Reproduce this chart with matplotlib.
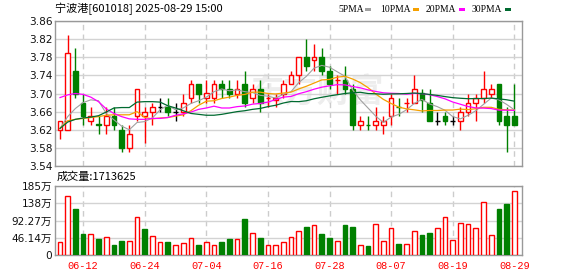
import matplotlib
matplotlib.use('Agg')
import matplotlib.pyplot as plt
from matplotlib.patches import Rectangle
import numpy as np
import pandas as pd

# ---------------- data ----------------
dates = ["06-09","06-10","06-11","06-12","06-13","06-16","06-17","06-18","06-19","06-20",
         "06-23","06-24","06-25","06-26","06-27","06-30","07-01","07-02","07-03","07-04",
         "07-07","07-08","07-09","07-10","07-11","07-14","07-15","07-16","07-17","07-18",
         "07-21","07-22","07-23","07-24","07-25","07-28","07-29","07-30","07-31","08-01",
         "08-04","08-05","08-06","08-07","08-08","08-11","08-12","08-13","08-14","08-15",
         "08-18","08-19","08-20","08-21","08-22","08-25","08-26","08-27","08-28","08-29"]
tick_labels = ["06-12","06-24","07-04","07-16","07-28","08-07","08-19","08-29"]

open_ = [3.62,3.62,3.75,3.68,3.64,3.633,3.63,3.65,3.62,3.58,
         3.65,3.65,3.66,3.67,3.67,3.66,3.66,3.69,3.72,3.69,
         3.69,3.72,3.71,3.70,3.72,3.69,3.71,3.69,3.685,3.70,
         3.72,3.74,3.78,3.775,3.78,3.75,3.73,3.73,3.71,3.63,
         3.63,3.63,3.63,3.65,3.67,3.68,3.68,3.70,3.68,3.64,
         3.65,3.64,3.64,3.66,3.68,3.69,3.70,3.72,3.65,3.65]
high = [3.64,3.83,3.80,3.70,3.67,3.65,3.67,3.67,3.63,3.63,
        3.71,3.67,3.68,3.69,3.69,3.68,3.70,3.73,3.72,3.73,
        3.73,3.73,3.73,3.73,3.75,3.72,3.73,3.70,3.70,3.73,
        3.75,3.78,3.82,3.81,3.80,3.76,3.74,3.76,3.72,3.65,
        3.65,3.67,3.65,3.70,3.69,3.69,3.74,3.71,3.71,3.66,
        3.66,3.65,3.67,3.70,3.70,3.75,3.72,3.72,3.67,3.72]
low = [3.60,3.62,3.69,3.63,3.63,3.61,3.61,3.62,3.57,3.57,
       3.64,3.59,3.63,3.66,3.65,3.64,3.65,3.68,3.68,3.68,
       3.68,3.69,3.69,3.69,3.67,3.68,3.66,3.67,3.67,3.69,
       3.72,3.72,3.75,3.75,3.74,3.71,3.70,3.70,3.62,3.62,
       3.62,3.62,3.61,3.63,3.65,3.66,3.68,3.66,3.64,3.63,
       3.63,3.63,3.62,3.65,3.64,3.68,3.69,3.63,3.57,3.63]
close = [3.64,3.79,3.70,3.65,3.65,3.63,3.65,3.63,3.58,3.61,
         3.71,3.66,3.67,3.67,3.66,3.66,3.68,3.72,3.70,3.70,
         3.72,3.71,3.70,3.71,3.68,3.71,3.68,3.69,3.69,3.72,
         3.74,3.78,3.76,3.78,3.75,3.72,3.73,3.71,3.63,3.64,
         3.63,3.64,3.64,3.69,3.67,3.68,3.71,3.685,3.64,3.64,
         3.64,3.64,3.66,3.68,3.69,3.71,3.71,3.64,3.63,3.63]

# volume in 万
volume = [35.7,158,123,56,56,43,47,27,37.5,37.5,
          101,70,51,35,35,26,31,45,26,35,
          26,35,43,43,96.5,59,45.6,26,26,35,
          48,64,75,80,56,45.6,37.5,80,75,26,
          24,83,37.5,71.5,29.5,29.5,63.5,53.6,59,71.5,
          101,40,85,82,71.5,141,53.6,123,137,171.3625]
vol_up = [1,1,0,0,1,0,1,0,0,1,
          1,0,1,1,0,1,1,1,0,1,
          1,0,0,1,0,1,0,1,1,1,
          1,1,0,1,0,0,1,0,0,1,
          0,1,1,1,0,1,1,0,0,1,
          1,1,1,1,1,1,1,0,0,1]
vol_max = 184.55
vol_tick_labels = ["0", "46.14万", "92.27万", "138万", "185万"]

# moving-average values before a full window is available
ma5_head = [3.623, 3.649, 3.667, 3.680]
ma10_head = [3.623, 3.640, 3.643, 3.645, 3.647, 3.649, 3.652, 3.653, 3.653]
ma20_head = [3.691, 3.697, 3.700, 3.698, 3.692, 3.682, 3.666, 3.656, 3.649, 3.644,
             3.643, 3.643, 3.645, 3.645, 3.647, 3.652, 3.655, 3.659, 3.665]
ma30_head = [3.623, 3.637, 3.643, 3.646, 3.648, 3.651, 3.659, 3.668, 3.669, 3.669,
             3.681, 3.682, 3.682, 3.681, 3.673, 3.668, 3.662, 3.656, 3.654, 3.652,
             3.652, 3.654, 3.657, 3.660, 3.662, 3.665, 3.667, 3.671, 3.674]

price_ticks = [3.54, 3.58, 3.62, 3.66, 3.70, 3.74, 3.78, 3.82, 3.86]

# ---------------- style ----------------
RED = '#ff0000'
GREEN = '#008000'
MA_COLORS = {'5PMA': '#a0a0a0', '10PMA': '#f5a000', '20PMA': '#ff00ff', '30PMA': '#006a30'}
GRID = '#d3d3d3'
SPINE = '#999999'

W, H = 578, 276
fig = plt.figure(figsize=(W / 100, H / 100), dpi=100)


def ax_px(l, t, r, b):
    return fig.add_axes([l / W, 1 - b / H, (r - l) / W, (b - t) / H])


ax = ax_px(55, 21, 522, 166)
axv = ax_px(55, 186, 522, 255)

n = len(close)
x = np.arange(n)
tick_pos = [dates.index(t) for t in tick_labels]
bw = 0.62

closes = np.array(close)


def ma(win, head):
    out = pd.Series(closes).rolling(win).mean().to_numpy()
    out[:win - 1] = head
    return out


mas = {'5PMA': ma(5, ma5_head), '10PMA': ma(10, ma10_head),
       '20PMA': ma(20, ma20_head), '30PMA': ma(30, ma30_head)}

# watermark
ax.text(0.56, 0.5, "东方财富", transform=ax.transAxes, ha='center', va='center',
        fontsize=24, color='#ededed', family=['Noto Sans CJK SC'], zorder=0,
        fontweight='bold')

for i in range(n):
    o, h, l, c = open_[i], high[i], low[i], close[i]
    prev = close[i - 1] if i > 0 else c
    if c > o:
        col = RED
    elif c < o:
        col = GREEN
    else:
        col = RED if c > prev else (GREEN if c < prev else 'black')
    ax.vlines(i, l, h, color=col, lw=1, zorder=2)
    if c == o:
        ax.hlines(c, i - bw / 2, i + bw / 2, color=col, lw=1, zorder=3)
    elif c > o:
        ax.add_patch(Rectangle((i - bw / 2, o), bw, c - o, facecolor='white',
                               edgecolor=col, lw=1, zorder=3))
    else:
        ax.add_patch(Rectangle((i - bw / 2, c), bw, o - c, facecolor=col,
                               edgecolor=col, lw=1, zorder=3))

for name, vals in mas.items():
    ax.plot(x, vals, color=MA_COLORS[name], lw=0.9 if name != '5PMA' else 0.8, zorder=4)

ax.set_xlim(-0.65, n + 0.0)
ax.set_ylim(price_ticks[0], price_ticks[-1])
ax.set_yticks(price_ticks)
ax.set_yticklabels([f"{p:.2f}" for p in price_ticks])
ax.set_xticks(tick_pos)
ax.set_xticklabels([])
ax.grid(axis='y', color=GRID, lw=1, ls='-', zorder=0)
ax.grid(axis='x', color='#cccccc', lw=1, ls=(0, (4, 3)), zorder=0)
ax.set_axisbelow(True)
ax.tick_params(axis='both', length=0, pad=2, labelsize=7.6, labelcolor='#111111')

# volume
for i in range(n):
    if vol_up[i]:
        axv.bar(i, volume[i], width=bw, facecolor='white', edgecolor=RED, lw=1, zorder=3)
    else:
        axv.bar(i, volume[i], width=bw, facecolor=GREEN, edgecolor=GREEN, lw=1, zorder=3)

axv.set_xlim(-0.65, n + 0.0)
axv.set_ylim(0, vol_max)
vt = [vol_max * k / 4 for k in range(5)]
axv.set_yticks(vt)
axv.set_yticklabels(vol_tick_labels, family=['DejaVu Sans', 'Noto Sans CJK SC'])
axv.set_xticks(tick_pos)
axv.set_xticklabels(tick_labels, color=RED, family=['Liberation Mono'], fontsize=7.4)
axv.grid(axis='y', color=GRID, lw=1, ls='-', zorder=0)
axv.grid(axis='x', color='#cccccc', lw=1, ls=(0, (4, 3)), zorder=0)
axv.set_axisbelow(True)
axv.tick_params(axis='y', length=0, pad=2, labelsize=7.6, labelcolor='#111111')
axv.tick_params(axis='x', length=0, pad=4)

for a in (ax, axv):
    for s in a.spines.values():
        s.set_color(SPINE)
        s.set_linewidth(1)

# texts
fig.text(55 / W, 1 - 8.5 / H, "宁波港[601018] 2025-08-29 15:00", ha='left', va='center',
         fontsize=8, family=['Noto Sans CJK SC', 'DejaVu Sans'])
fig.text(57 / W, 1 - 177 / H, f"成交量:{int(round(volume[-1] * 10000))}", ha='left', va='center',
         fontsize=8, family=['Noto Sans CJK SC', 'DejaVu Sans'])

legend_items = [('5PMA', 338, 365), ('10PMA', 380, 413), ('20PMA', 426, 459), ('30PMA', 472, 505)]
for name, tx, sx in legend_items:
    fig.text(tx / W, 1 - 9 / H, name, ha='left', va='center', fontsize=6.9,
             family=['Liberation Serif'])
    fig.patches.append(Rectangle((sx / W, 1 - 11 / H), 6 / W, 3 / H, transform=fig.transFigure,
                                 facecolor=MA_COLORS[name], edgecolor='none'))

fig.savefig('out.png', dpi=100)
